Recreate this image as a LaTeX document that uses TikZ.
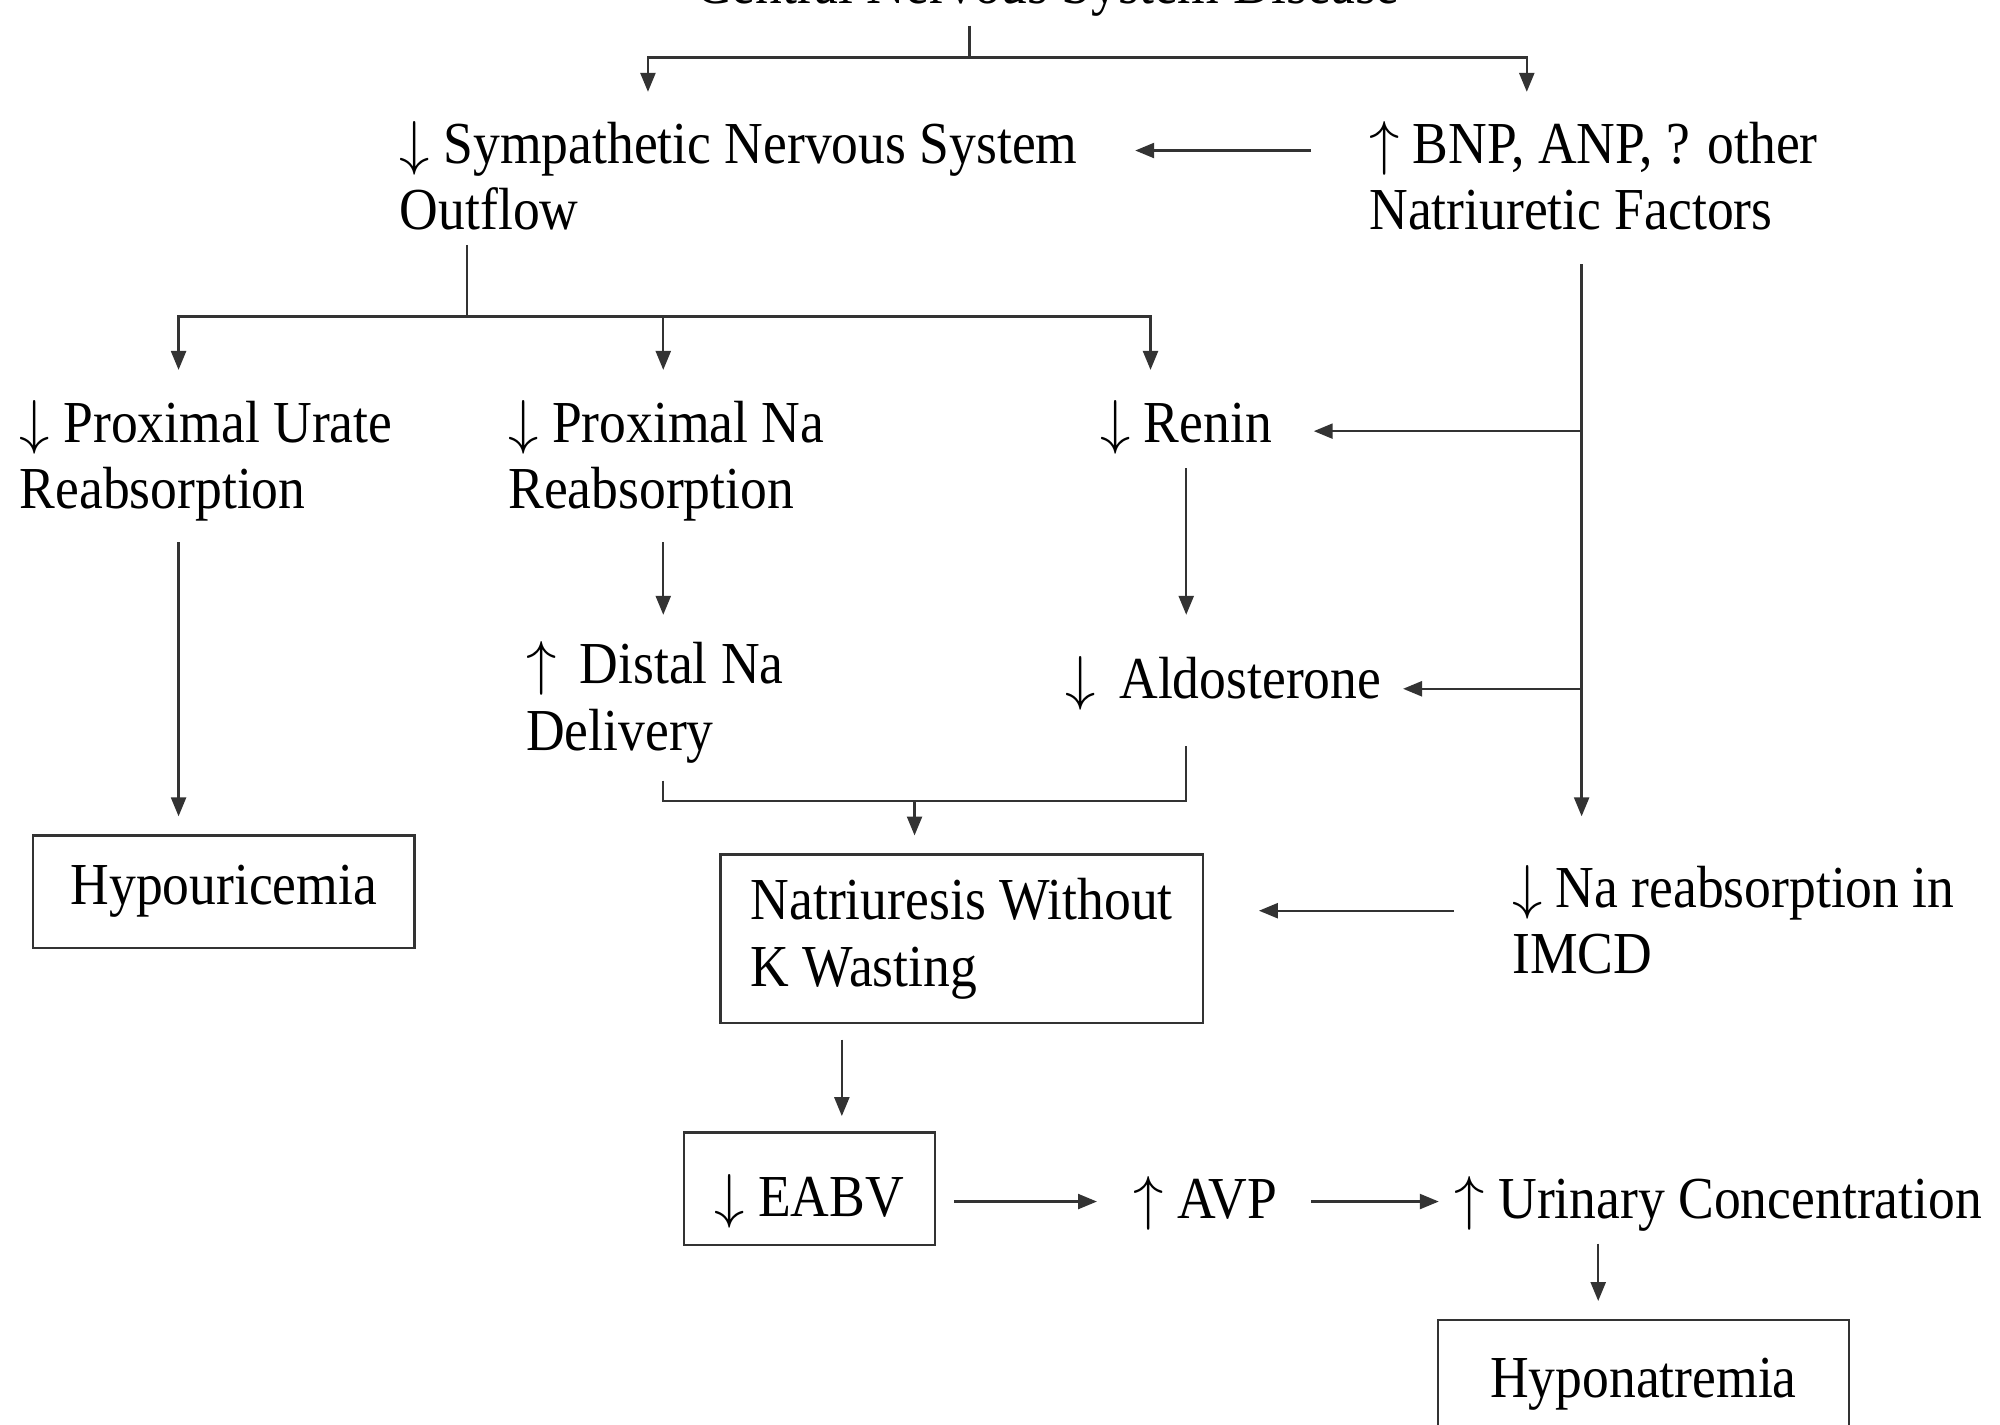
\documentclass[tikz,border=0pt]{standalone}
\usepackage{fontspec}
\setmainfont{Liberation Serif}[FakeStretch=0.9]
\usetikzlibrary{arrows.meta}
\newcommand\myDn{$\downarrow$}
\newcommand\myUp{$\uparrow$}
\tikzset{
  lbl/.style={anchor=base west, inner sep=0pt, align=left, font=\fontsize{17}{18.9}\selectfont},
  boxnode/.style={draw=black!80, line width=0.7pt, inner sep=0pt, align=left, font=\fontsize{17}{18.9}\selectfont},
  conn/.style={draw=black!80, line width=0.7pt},
  arr/.style={conn, -{Triangle[length=0.19cm, width=0.15cm]}}
}
\begin{document}
\begin{tikzpicture}[x=0.0128cm, y=-0.0128cm]
\useasboundingbox (0,0) rectangle (1568,1117);
% text nodes (multi-line nodes are placed at the baseline of their last line)
\node[lbl] (cns) at (545,3) {Central Nervous System Disease};
\node[lbl] (sns) at (313,180) {\myDn\ Sympathetic Nervous System\\Outflow};
\node[lbl] (bnp) at (1073,180) {\myUp\ BNP, ANP, ? other\\Natriuretic Factors};
\node[lbl] (urate) at (15,399) {\myDn\ Proximal Urate\\Reabsorption};
\node[lbl] (proxna) at (398,399) {\myDn\ Proximal Na\\Reabsorption};
\node[lbl] (renin) at (862,347) {\myDn\ Renin};
\node[lbl] (distal) at (412,588) {\myUp\ \,Distal Na\\Delivery};
\node[lbl] (aldo) at (835,548) {\myDn\ \,Aldosterone};
\node[lbl] (naimcd) at (1185,763) {\myDn\ Na reabsorption in\\IMCD};
\node[lbl] (avp) at (888,955) {\myUp\ AVP};
\node[lbl] (urin) at (1140,955) {\myUp\ Urinary Concentration};
% boxes
\node[boxnode, minimum width=3.83cm, minimum height=1.13cm] (hypou) at (175.5,699) {Hypouricemia};
\node[boxnode, minimum width=4.84cm, minimum height=1.69cm] (natri) at (754,736) {Natriuresis Without\\K Wasting};
\node[boxnode, minimum width=2.52cm, minimum height=1.13cm, text height=0.55cm, text depth=0cm] (eabv) at (634.5,932) {\myDn\ EABV};
\node[boxnode, minimum width=4.13cm, minimum height=1.28cm] (hypon) at (1288.5,1085) {Hyponatremia};
% junction coordinates
\coordinate (cnsA) at (760,20);
\coordinate (cnsJ) at (760,45);
\coordinate (snsT) at (508,72);
\coordinate (bnpT) at (1197,72);
\coordinate (bnpL) at (1028,118);
\coordinate (snsR) at (890,118);
\coordinate (outA) at (366,192);
\coordinate (outJ) at (366,248);
\coordinate (urT) at (140,290);
\coordinate (pnT) at (520,290);
\coordinate (reT) at (902,290);
\coordinate (bnpB) at (1240,207);
\coordinate (imcdT) at (1240,640);
\coordinate (bR) at (1240,338);
\coordinate (reR) at (1030,338);
\coordinate (bA) at (1240,540);
\coordinate (alR) at (1100,540);
\coordinate (reB) at (930,367);
\coordinate (alT) at (930,482);
\coordinate (pnB) at (520,425);
\coordinate (diT) at (520,482);
\coordinate (urB) at (140,425);
\coordinate (huT) at (140,640);
\coordinate (diB) at (520,612);
\coordinate (alB) at (930,585);
\coordinate (brJ) at (717,628);
\coordinate (naT) at (717,655);
\coordinate (imL) at (1140,714);
\coordinate (naR) at (987,714);
\coordinate (naB) at (660,815);
\coordinate (eaT) at (660,875);
\coordinate (eaR) at (748,942);
\coordinate (avL) at (860,942);
\coordinate (avR) at (1028,942);
\coordinate (urL) at (1128,942);
\coordinate (ucB) at (1253,975);
\coordinate (hyT) at (1253,1020);
% connectors
\draw[conn] (cnsA) -- (cnsJ);
\draw[arr] (cnsJ) -| (snsT);
\draw[arr] (cnsJ) -| (bnpT);
\draw[arr] (bnpL) -- (snsR);
\draw[conn] (outA) -- (outJ);
\draw[arr] (outJ) -| (urT);
\draw[arr] (outJ) -| (pnT);
\draw[arr] (outJ) -| (reT);
\draw[arr] (bnpB) -- (imcdT);
\draw[arr] (bR) -- (reR);
\draw[arr] (bA) -- (alR);
\draw[arr] (reB) -- (alT);
\draw[arr] (pnB) -- (diT);
\draw[arr] (urB) -- (huT);
\draw[conn] (diB) |- (brJ) -| (alB);
\draw[arr] (brJ) -- (naT);
\draw[arr] (imL) -- (naR);
\draw[arr] (naB) -- (eaT);
\draw[arr] (eaR) -- (avL);
\draw[arr] (avR) -- (urL);
\draw[arr] (ucB) -- (hyT);
\end{tikzpicture}
\end{document}
